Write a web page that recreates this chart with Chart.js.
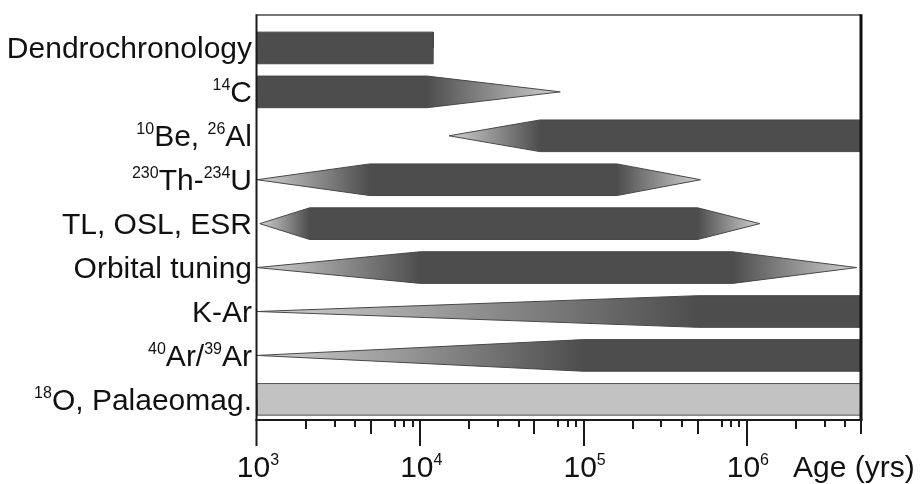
<!DOCTYPE html>
<html>
<head>
<meta charset="utf-8">
<script src="https://cdn.jsdelivr.net/npm/chart.js@4.4.1/dist/chart.umd.min.js"></script>
<style>
  html, body { margin: 0; padding: 0; background: #fff; }
  #wrap { width: 921px; height: 484px; position: relative; }
</style>
</head>
<body>
<div id="wrap"><canvas id="chart-methods"></canvas></div>
<script>
'use strict';

// dating methods, top to bottom ("^nn" = superscript mass number)
const methods = ['Dendrochronology', '^14C', '^10Be, ^26Al', '^230Th-^234U', 'TL, OSL, ESR',
                 'Orbital tuning', 'K-Ar', '^40Ar/^39Ar', '^18O, Palaeomag.'];
// age limits in years: taper start, reliable start, reliable end, taper end
const rangeFrom = [1e3,   1e3,   1.5e4, 1e3,   1.04e3, 1e3,   1e3, 1e3, 1e3];
const solidFrom = [1e3,   1e3,   5.4e4, 4.9e3, 2.1e3,  1e4,   5e5, 1e5, 1e3];
const solidTo   = [1.2e4, 1.1e4, 5e6,   1.6e5, 5e5,    8.2e5, 5e6, 5e6, 5e6];
const rangeTo   = [1.2e4, 7.2e4, 5e6,   5.2e5, 1.2e6,  4.7e6, 5e6, 5e6, 5e6];

// x axis (log, years)
const ageMin = 1e3;
const ageMax = 5e6;
const decadeExps = [3, 4, 5, 6];
const minorSteps = [2, 3, 4, 5, 7, 8, 9];
const axisTitle = 'Age (yrs)';

// styling
const FONT = "'Liberation Sans', Arial, Helvetica, sans-serif";
const BODY = '#4d4d4d';
const TIP = '#d2d2d2';
const EDGE = '#474747';
const PROXY_FILL = '#c2c2c2';
const proxyRows = [8];
const HALF = 0.36;

function shade(chart, i) {
  if (proxyRows.includes(i)) return PROXY_FILL;
  const x = chart.scales.x;
  if (!x) return BODY;
  const a = x.getPixelForValue(rangeFrom[i]);
  const b = x.getPixelForValue(solidFrom[i]);
  const c = x.getPixelForValue(solidTo[i]);
  const d = x.getPixelForValue(rangeTo[i]);
  if (![a, b, c, d].every(Number.isFinite) || d - a <= 0) return BODY;
  const w = d - a;
  const g = chart.ctx.createLinearGradient(a, 0, d, 0);
  g.addColorStop(0, b > a + 0.5 ? TIP : BODY);
  g.addColorStop(Math.min(1, (b - a) / w), BODY);
  g.addColorStop(Math.min(1, (c - a) / w), BODY);
  g.addColorStop(1, d > c + 0.5 ? TIP : BODY);
  return g;
}

// each method = outline split in an upper and a lower edge, filled between them
const datasets = [];
methods.forEach((m, i) => {
  const edge = s => [
    { x: rangeFrom[i], y: i },
    { x: solidFrom[i], y: i + s * HALF },
    { x: solidTo[i],   y: i + s * HALF },
    { x: rangeTo[i],   y: i }
  ];
  const line = proxyRows.includes(i) ? '#555' : EDGE;
  datasets.push({ label: m + ' upper', data: edge(-1), borderColor: line, borderWidth: 1, fill: false });
  datasets.push({ label: m, data: edge(1), borderColor: line, borderWidth: 1, fill: '-1',
                  backgroundColor: ctx => shade(ctx.chart, i) });
});

function richParts(text) {
  return text.split(/(\^\d+)/).filter(Boolean)
    .map(s => s[0] === '^' ? { t: s.slice(1), sup: true } : { t: s, sup: false });
}

function drawRich(ctx, text, x, baseline, align, size, supSize, rise) {
  const parts = richParts(text);
  const fontOf = p => (p.sup ? supSize : size) + 'px ' + FONT;
  let total = 0;
  parts.forEach(p => { ctx.font = fontOf(p); p.w = ctx.measureText(p.t).width; total += p.w; });
  let cx = align === 'right' ? x - total : align === 'center' ? x - total / 2 : x;
  ctx.textAlign = 'left';
  ctx.textBaseline = 'alphabetic';
  parts.forEach(p => {
    ctx.font = fontOf(p);
    ctx.fillText(p.t, cx, p.sup ? baseline - rise : baseline);
    cx += p.w;
  });
}

const decor = {
  id: 'decor',
  afterDatasetsDraw(chart) {
    const { ctx, chartArea: a, scales: { x, y } } = chart;
    ctx.save();

    // frame
    ctx.strokeStyle = '#4a4a4a';
    ctx.lineWidth = 1.5;
    ctx.beginPath(); ctx.moveTo(a.left, a.top); ctx.lineTo(a.right, a.top); ctx.stroke();
    ctx.strokeStyle = '#111';
    ctx.lineWidth = 3;
    ctx.beginPath(); ctx.moveTo(a.right, a.top - 0.75); ctx.lineTo(a.right, a.bottom); ctx.stroke();
    ctx.strokeStyle = '#1a1a1a';
    ctx.lineWidth = 2;
    ctx.beginPath(); ctx.moveTo(a.left - 0.5, a.top - 0.75); ctx.lineTo(a.left - 0.5, a.bottom + 1); ctx.stroke();
    ctx.beginPath(); ctx.moveTo(a.left - 1.5, a.bottom); ctx.lineTo(a.right + 1.5, a.bottom); ctx.stroke();

    // x ticks: long at decades, medium at 5, short elsewhere
    ctx.strokeStyle = '#1a1a1a';
    ctx.lineWidth = 2;
    const tick = (v, len) => {
      if (v < ageMin * 0.999 || v > ageMax * 1.001) return;
      const px = Math.round(x.getPixelForValue(v)) - (v === ageMin ? 0.5 : 0);
      ctx.beginPath(); ctx.moveTo(px, a.bottom); ctx.lineTo(px, a.bottom + len); ctx.stroke();
    };
    decadeExps.forEach(e => {
      const base = Math.pow(10, e);
      tick(base, 26);
      minorSteps.forEach(k => tick(k * base, k === 5 ? 14 : k === 2 ? 9 : 7));
    });

    // tick labels and axis title
    ctx.fillStyle = '#111';
    decadeExps.forEach(e => {
      drawRich(ctx, '10^' + e, x.getPixelForValue(Math.pow(10, e)) + 1, a.bottom + 57, 'center', 30, 16, 12);
    });
    ctx.font = '30px ' + FONT;
    ctx.textAlign = 'left';
    ctx.fillText(axisTitle, 793, a.bottom + 57);

    // method labels
    methods.forEach((m, i) => {
      drawRich(ctx, m, a.left - 5, y.getPixelForValue(i) + 10.5, 'right', 30, 16, 12);
    });
    ctx.restore();
  }
};

new Chart(document.getElementById('chart-methods'), {
  type: 'line',
  data: { datasets },
  options: {
    responsive: true,
    maintainAspectRatio: false,
    animation: false,
    layout: { padding: { left: 257, right: 60, top: 15, bottom: 64 } },
    elements: { point: { radius: 0, hoverRadius: 0 }, line: { tension: 0 } },
    plugins: { legend: { display: false }, tooltip: { enabled: false } },
    scales: {
      x: { type: 'logarithmic', min: ageMin, max: ageMax, display: false },
      y: { type: 'linear', min: -0.75, max: 8.47, reverse: true, display: false }
    }
  },
  plugins: [decor]
});
</script>
</body>
</html>
